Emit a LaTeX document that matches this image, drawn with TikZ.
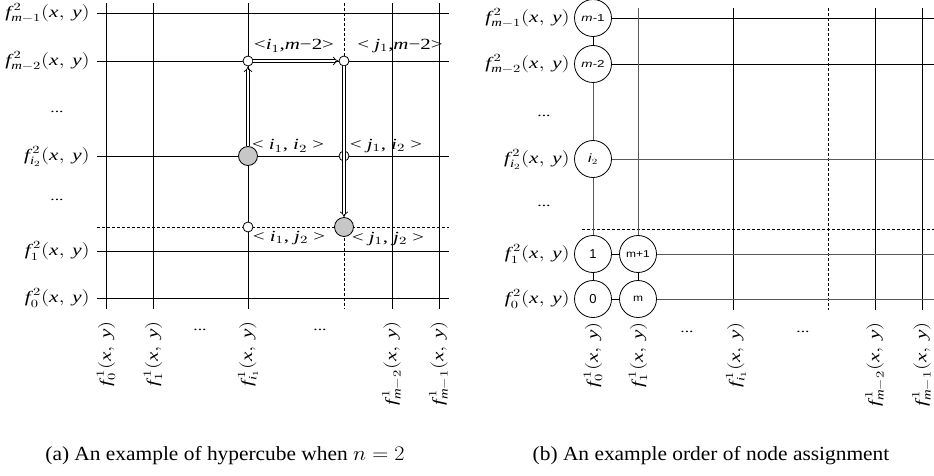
\documentclass[tikz,border=0pt]{standalone}
\usepackage{amsmath}
\usepackage{graphicx}
\usepackage{fontspec}
\setmainfont{Liberation Serif}
\newfontfamily\arialf{Liberation Sans}
\usetikzlibrary{arrows.meta}
\newcommand{\vi}[1]{\textit{#1}}
\newcommand{\sx}[1]{\scalebox{1.35}[1]{#1}}
\newcommand{\FF}[2]{\scalebox{1.32}[1]{$\vi{f}^{\,#1}_{#2}(\vi{x},\,\vi{y})$}}
\begin{document}
\begin{tikzpicture}[x=1pt,y=-1pt,
  grid/.style={line width=0.8pt},
  gdash/.style={line width=0.7pt, dash pattern=on 3pt off 2pt},
  ggrid/.style={line width=0.9pt, draw=black!65},
  lbl/.style={font=\fontsize{16}{18}\selectfont, inner sep=0pt},
  ylbl/.style={lbl, anchor=east},
  xlbl/.style={lbl, rotate=90, anchor=east},
  pairlbl/.style={font=\fontsize{15.5}{17}\selectfont, inner sep=0pt},
  dots/.style={font=\fontsize{13}{13}\selectfont, inner sep=0pt},
  pt/.style={circle, draw, line width=0.8pt, fill=white, minimum size=10pt, inner sep=0pt},
  gpt/.style={pt, fill=black!22, minimum size=19pt},
  dbl/.style={double, double distance=2.2pt, line width=0.7pt, -{Implies}},
  bigc/.style={circle, draw, line width=0.8pt, minimum size=37pt, inner sep=0pt, fill=white, font=\arialf\fontsize{10}{11}\selectfont},
  bigd/.style={bigc, font=\arialf\fontsize{13}{13}\selectfont},
  caption/.style={font=\fontsize{20}{22}\selectfont, inner sep=0pt}]
\fill[white] (0,0) rectangle (934,476);
\useasboundingbox (0,0) rectangle (934,476);

% ---------------- panel (a) ----------------
\foreach \y in {13,61,156,251,298} \draw[grid] (97,\y) -- (449,\y);
\draw[gdash] (97,227) -- (449,227);
\foreach \x in {106,153,248,392,439} \draw[grid] (\x,3) -- (\x,309);
\draw[gdash] (344,3) -- (344,309);

\node[pt] (A) at (248,61) {};
\node[pt] (B) at (344,61) {};
\node[pt] (D) at (344,156) {};
\node[pt] (E) at (248,227) {};
\node[gpt] (C) at (248,156) {};
\node[gpt] (F) at (344,227) {};
\draw[dbl] (C) -- (A);
\draw[dbl] (A) -- (B);
\draw[dbl] (B) -- (F);

\node[pairlbl] (tA) at (294,46) {\sx{<\vi{i}$_1$,\vi{m}−2>}};
\node[pairlbl] (tB) at (400,46) {\sx{< \vi{j}$_1$,\vi{m}−2>}};
\node[pairlbl] (tC) at (288,146) {\sx{< \vi{i}$_1$, \vi{i}$_2$ >}};
\node[pairlbl] (tD) at (386,146) {\sx{< \vi{j}$_1$, \vi{i}$_2$ >}};
\node[pairlbl] (tE) at (289,238) {\sx{< \vi{i}$_1$, \vi{j}$_2$ >}};
\node[pairlbl] (tF) at (388,239) {\sx{< \vi{j}$_1$, \vi{j}$_2$ >}};

\node[ylbl] (ya1) at (90,13) {\FF{2}{\vi{m}-1}};
\node[ylbl] (ya2) at (90,61) {\FF{2}{\vi{m}-2}};
\node[ylbl] (ya3) at (90,156) {\FF{2}{\vi{i}_2}};
\node[ylbl] (ya4) at (90,251) {\FF{2}{1}};
\node[ylbl] (ya5) at (90,298) {\FF{2}{0}};
\node[dots] (yd1) at (57,112) {\sx{...}};
\node[dots] (yd2) at (57,200) {\sx{...}};

\node[xlbl] (xa1) at (106,321) {\FF{1}{0}};
\node[xlbl] (xa2) at (153,321) {\FF{1}{1}};
\node[xlbl] (xa3) at (248,321) {\FF{1}{\vi{i}_1}};
\node[xlbl] (xa4) at (392,321) {\FF{1}{\vi{m}-2}};
\node[xlbl] (xa5) at (439,321) {\FF{1}{\vi{m}-1}};
\node[dots] (xd1) at (200,330) {\sx{...}};
\node[dots] (xd2) at (320,330) {\sx{...}};

\node[caption] (capa) at (225,456) {\scalebox{1.07}[1]{(a) An example of hypercube when $n = 2$}};

% ---------------- panel (b) ----------------
\foreach \x in {733,875,922} \draw[grid] (\x,8) -- (\x,310);
\draw[gdash] (828,8) -- (828,310);
\draw[gdash] (582,229) -- (934,229);

\node[bigc] (c1) at (593,18) {\scalebox{1.35}[1]{\textit{m-}1}};
\node[bigc] (c2) at (593,64) {\scalebox{1.35}[1]{\textit{m-}2}};
\node[bigc] (c3) at (593,159) {\scalebox{1.3}[1]{\fontsize{12}{12}\selectfont\textit{i}$_2$}};
\node[bigd] (c4) at (593,254) {1};
\node[bigd] (c5) at (593,299) {0};
\node[bigc] (c6) at (638,254) {\scalebox{1.2}[1]{m+1}};
\node[bigc] (c7) at (638,299) {\scalebox{1.2}[1]{m}};

\coordinate (e1) at (934,18);
\coordinate (e2) at (934,64);
\coordinate (e3) at (934,159);
\coordinate (e6) at (934,254);
\coordinate (e7) at (934,299);
\coordinate (top6) at (638,8);

\draw[grid] (c1) -- (c2);
\draw[ggrid] (c2) -- (c3);
\draw[ggrid] (c3) -- (c4);
\draw[grid] (c4) -- (c5);
\draw[grid] (c6) -- (c7);
\draw[grid] (c4) -- (c6);
\draw[grid] (c5) -- (c7);
\draw[grid] (c1) -- (e1);
\draw[grid] (c2) -- (e2);
\draw[ggrid] (c3) -- (e3);
\draw[ggrid] (c6) -- (e6);
\draw[ggrid] (c7) -- (e7);
\draw[ggrid] (c6) -- (top6);

\node[ylbl] (yb1) at (570,18) {\FF{2}{\vi{m}-1}};
\node[ylbl] (yb2) at (570,64) {\FF{2}{\vi{m}-2}};
\node[ylbl] (yb3) at (570,159) {\FF{2}{\vi{i}_2}};
\node[ylbl] (yb4) at (570,254) {\FF{2}{1}};
\node[ylbl] (yb5) at (570,299) {\FF{2}{0}};
\node[dots] (ybd1) at (544,116) {\sx{...}};
\node[dots] (ybd2) at (544,206) {\sx{...}};

\node[xlbl] (xb1) at (593,322) {\FF{1}{0}};
\node[xlbl] (xb2) at (638,322) {\FF{1}{1}};
\node[xlbl] (xb3) at (736,322) {\FF{1}{\vi{i}_1}};
\node[xlbl] (xb4) at (875,322) {\FF{1}{\vi{m}-2}};
\node[xlbl] (xb5) at (922,322) {\FF{1}{\vi{m}-1}};
\node[dots] (xbd1) at (687,332) {\sx{...}};
\node[dots] (xbd2) at (803,332) {\sx{...}};

\node[caption] (capb) at (711,456) {\scalebox{1.07}[1]{(b) An example order of node assignment}};
\end{tikzpicture}
\end{document}
